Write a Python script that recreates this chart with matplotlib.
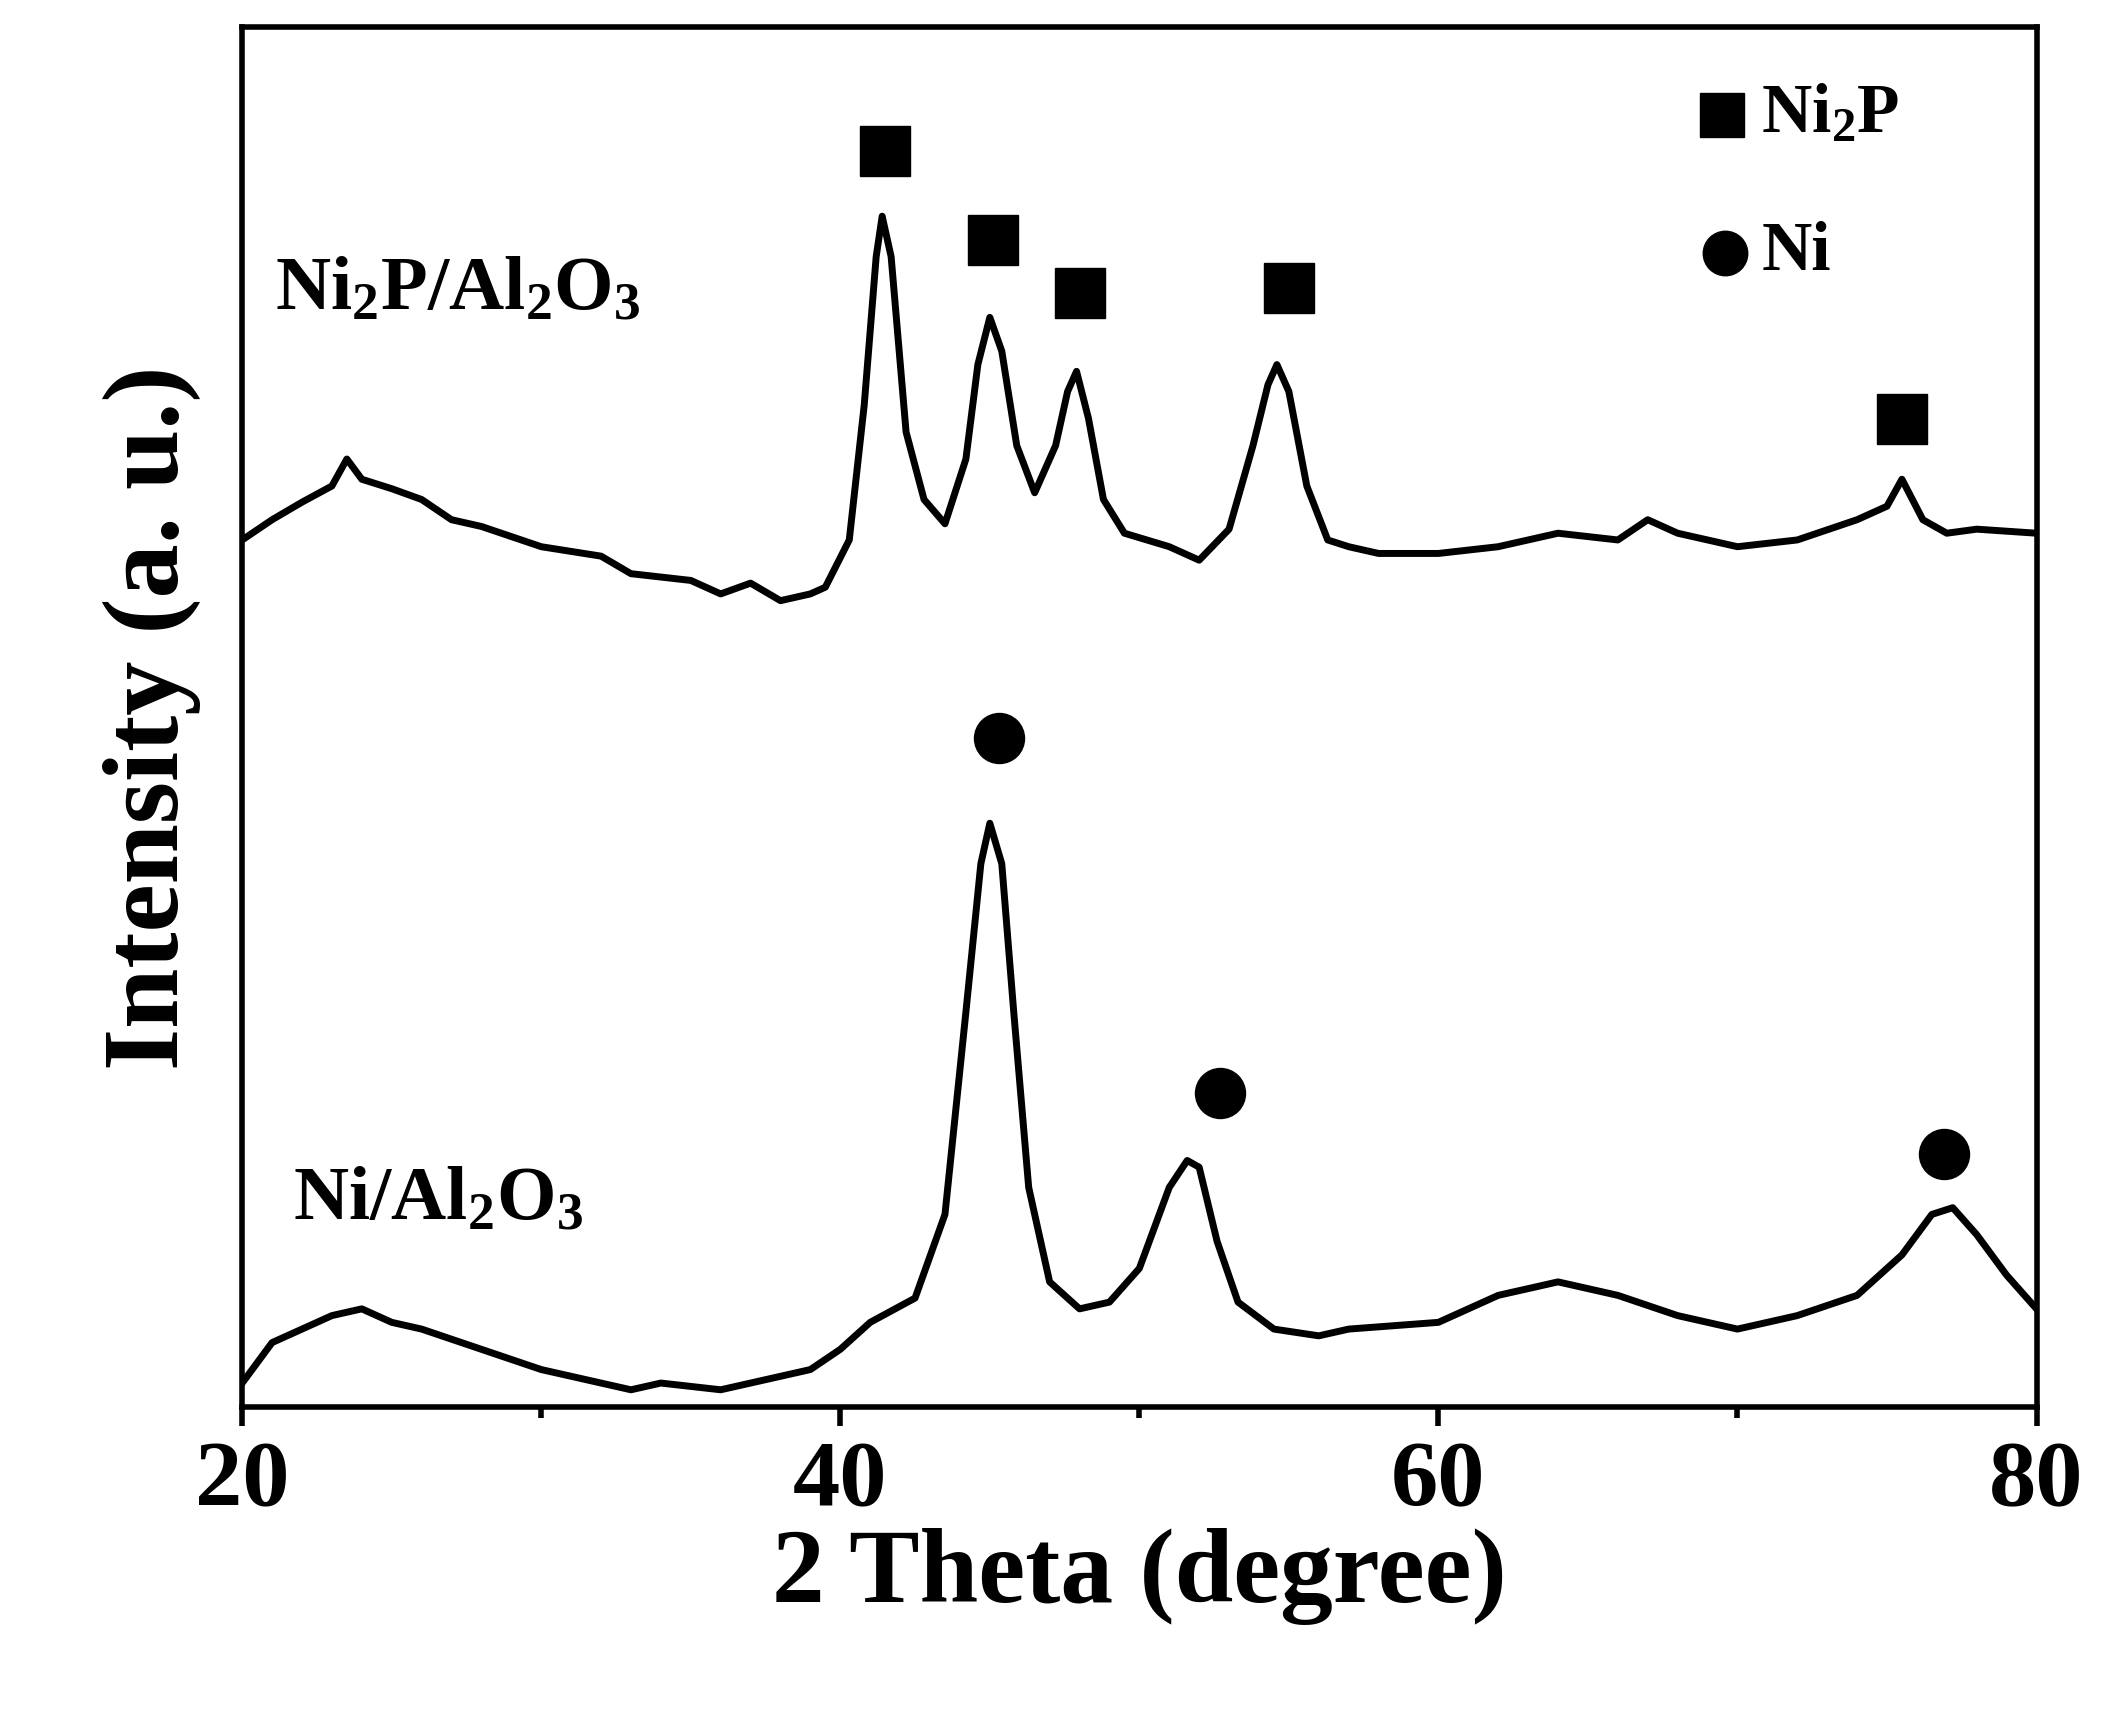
import matplotlib
matplotlib.use("Agg")
import matplotlib.pyplot as plt

# y values are vertical positions in the reference frame (larger = lower)
ni2p_x = [20,21,22,23,23.5,24,25,26,27,28,30,32,33,35,36,37,38,39,39.5,40.3,40.8,41.2,41.4,41.7,42.2,42.8,43.5,44.2,44.6,45.0,45.4,45.9,46.5,47.2,47.6,47.9,48.3,48.8,49.5,51,52,53,53.8,54.3,54.6,55.0,55.6,56.3,57,58,60,62,64,66,67,68,70,72,74,75,75.5,76.2,77,78,80]
ni2p_y = [400,385,372,360,340,355,362,370,385,390,405,412,425,430,440,432,445,440,435,400,300,190,160,190,320,370,388,340,270,235,260,330,365,330,290,275,310,370,395,405,415,392,330,285,270,290,360,400,405,410,410,405,395,400,385,395,405,400,385,375,355,385,395,392,395]
ni_x = [20,21,22,23,24,25,26,28,30,31,33,34,36,37,39,40,41,42.5,43.5,44.2,44.7,45.0,45.4,45.8,46.3,47,48,49,50,51,51.6,52,52.6,53.3,54.5,56,57,60,61,62,64,65,66,68,70,72,74,75.5,76.5,77.2,78,79,80]
ni_y = [1025,995,985,975,970,980,985,1000,1015,1020,1030,1025,1030,1025,1015,1000,980,962,900,750,640,610,640,750,880,950,970,965,940,880,860,865,920,965,985,990,985,980,970,960,950,955,960,975,985,975,960,930,900,895,915,945,970]
sq_x = [41.5,45.1,48.0,55.0,75.5]
sq_y = [112,178,217,213,310]
ci_x = [45.3,52.7,76.9]
ci_y = [547,810,855]
xticks = [20,40,60,80]

fs = 'Liberation Serif'
plt.rcParams['mathtext.fontset'] = 'custom'
plt.rcParams['mathtext.rm'] = 'Liberation Serif:bold'
plt.rcParams['mathtext.it'] = 'Liberation Serif:bold'
plt.rcParams['mathtext.bf'] = 'Liberation Serif:bold'

fig = plt.figure(figsize=(21.06,17.1), dpi=100)
ax = fig.add_axes([0.115,0.177,0.852,0.807])
ax.plot(ni2p_x, ni2p_y, color='black', lw=5)
ax.plot(ni_x, ni_y, color='black', lw=5)
ax.plot(sq_x, sq_y, 's', color='black', ms=36, ls='none')
ax.plot(ci_x, ci_y, 'o', color='black', ms=36, ls='none')
ax.set_xlim(20,80); ax.set_ylim(1043,20)
ax.set_yticks([])
ax.set_xticks(xticks)
ax.set_xticks([30,50,70], minor=True)
ax.tick_params(axis='x', which='major', direction='out', length=14, width=4, labelsize=68, pad=10)
ax.tick_params(axis='x', which='minor', direction='out', length=8, width=4)
for l in ax.get_xticklabels():
    l.set_fontfamily(fs); l.set_fontweight('bold')
for s in ax.spines.values(): s.set_linewidth(4)
ax.set_xlabel('2 Theta (degree)', fontfamily=fs, fontweight='bold', fontsize=76, labelpad=2)
ax.set_ylabel('Intensity (a. u.)', fontfamily=fs, fontweight='bold', fontsize=78, labelpad=30)
ax.plot([69.5],[85],'s',color='black',ms=32,clip_on=False)
ax.plot([69.6],[187],'o',color='black',ms=32,clip_on=False)
ax.text(70.8,85,'Ni$_2$P',fontfamily=fs,fontweight='bold',fontsize=50,va='center')
ax.text(70.8,187,'Ni',fontfamily=fs,fontweight='bold',fontsize=50,va='center')
ax.text(21.1,215,'Ni$_2$P/Al$_2$O$_3$',fontfamily=fs,fontweight='bold',fontsize=55,va='center')
ax.text(21.7,890,'Ni/Al$_2$O$_3$',fontfamily=fs,fontweight='bold',fontsize=55,va='center')
fig.savefig('out.png', dpi=100)
